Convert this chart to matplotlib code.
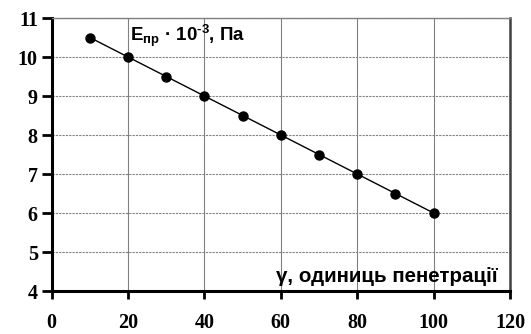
import matplotlib.pyplot as plt

plt.rcParams['mathtext.default'] = 'regular'

gamma = [10, 20, 30, 40, 50, 60, 70, 80, 90, 100]
e_pr = [10.5, 10.0, 9.5, 9.0, 8.5, 8.0, 7.5, 7.0, 6.5, 6.0]
x_ticks = [0, 20, 40, 60, 80, 100, 120]
y_ticks = [4, 5, 6, 7, 8, 9, 10, 11]

fig = plt.figure(figsize=(5.31, 3.34), dpi=100)
ax = fig.add_axes([0.0974, 0.1287, 0.8631, 0.8173])

ax.plot(gamma, e_pr, color='black', linewidth=1.0, marker='o',
        markersize=6.5, zorder=3)

ax.set_xlim(0, 120)
ax.set_ylim(4, 11)
ax.set_xticks(x_ticks)
ax.set_yticks(y_ticks)

ax.xaxis.grid(True, color='#808080', linewidth=0.8, linestyle='-')
ax.yaxis.grid(True, color='#808080', linewidth=0.8, linestyle=(0, (2, 1)))
ax.set_axisbelow(True)

for side in ['left', 'bottom']:
    ax.spines[side].set_linewidth(2.2)
    ax.spines[side].set_color('black')
ax.spines['top'].set_linewidth(1.0)
ax.spines['top'].set_color('#808080')
ax.spines['right'].set_linewidth(1.8)
ax.spines['right'].set_color('#404040')

ax.tick_params(axis='x', direction='out', length=6, width=2, pad=10)
ax.tick_params(axis='y', direction='out', length=7, width=2, pad=3)
for lbl in ax.get_xticklabels() + ax.get_yticklabels():
    lbl.set_fontfamily('Liberation Serif')
    lbl.set_fontweight('bold')
    lbl.set_fontsize(14.5)

ax.text(20.5, 10.55, 'E$_{пр}$ · 10$^{\u20103}$, Па', fontsize=13.5,
        fontweight='bold', family='Liberation Sans', ha='left', va='center')
ax.text(116.8, 4.36, 'γ, одиниць пенетрації', fontsize=14.8,
        fontweight='bold', family='Liberation Sans', ha='right', va='center')

fig.savefig('out.png', dpi=100)
